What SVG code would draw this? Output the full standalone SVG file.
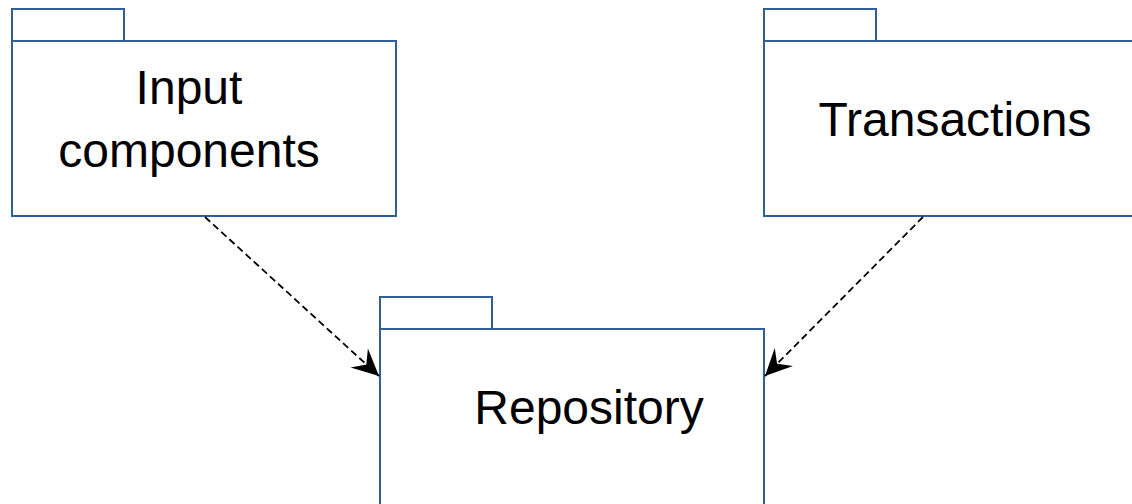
<svg xmlns="http://www.w3.org/2000/svg" width="1132" height="504" viewBox="0 0 1132 504">
  <style>
    .pkg { fill: #ffffff; stroke: #2f5f96; stroke-width: 2; }
    .lbl { font-family: "Liberation Sans", Arial, sans-serif; font-size: 48px; fill: #000000; text-anchor: middle; }
    .dep { fill: none; stroke: #000000; stroke-width: 1.8; stroke-dasharray: 7 4; }
  </style>
  <defs>
    <marker id="arrow" markerUnits="userSpaceOnUse" markerWidth="30" markerHeight="30" viewBox="-26 -13 28 26" refX="0" refY="0" orient="auto">
      <path d="M0,0 L-25,-12 L-16,0 L-25,12 Z" fill="#000000"/>
    </marker>
  </defs>
  <rect width="1132" height="504" fill="#ffffff"/>
  <g id="input-components">
    <rect class="pkg" x="12" y="9" width="112" height="32"/>
    <rect class="pkg" x="12" y="41" width="384" height="175"/>
    <text class="lbl" x="189" y="104">Input</text>
    <text class="lbl" x="189" y="167">components</text>
  </g>
  <g id="transactions">
    <rect class="pkg" x="764" y="9" width="112" height="32"/>
    <rect class="pkg" x="764" y="41" width="384" height="175"/>
    <text class="lbl" x="955" y="136">Transactions</text>
  </g>
  <g id="repository">
    <rect class="pkg" x="380" y="297" width="112" height="32"/>
    <rect class="pkg" x="380" y="329" width="384" height="190"/>
    <text class="lbl" x="589" y="424">Repository</text>
  </g>
  <g id="connectors">
    <line class="dep" x1="205" y1="217" x2="379" y2="376" marker-end="url(#arrow)"/>
    <line class="dep" x1="923" y1="217" x2="765" y2="376" marker-end="url(#arrow)"/>
  </g>
</svg>
